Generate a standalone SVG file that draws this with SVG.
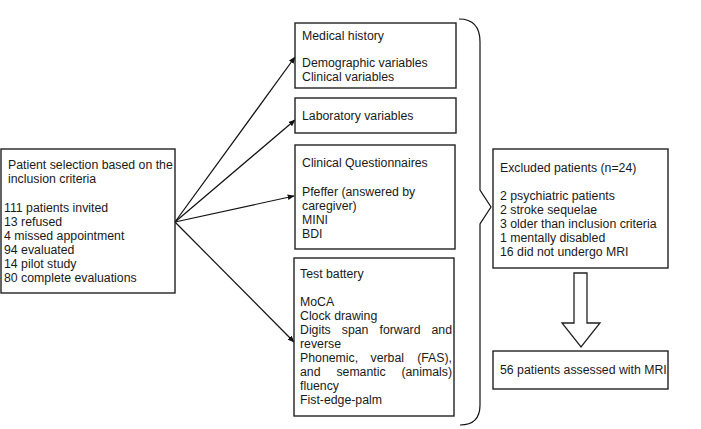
<svg xmlns="http://www.w3.org/2000/svg" width="701" height="429" viewBox="0 0 701 429">
<style>
.box{fill:#fff;stroke:#222;stroke-width:1.4}
text{font-family:"Liberation Sans",Arial,sans-serif;font-size:12.3px;fill:#1a1a1a}
.conn{stroke:#111;stroke-width:1.2;fill:none}
</style>
<defs>
<marker id="ah" viewBox="0 0 10 10" refX="9" refY="5" markerWidth="7" markerHeight="7" markerUnits="userSpaceOnUse" orient="auto">
<path d="M0,1 L10,5 L0,9 Z" fill="#111"/>
</marker>
</defs>
<rect width="701" height="429" fill="#fff"/>
<g id="connectors">
<line class="conn" x1="175" y1="222" x2="295" y2="57" marker-end="url(#ah)"/>
<line class="conn" x1="175" y1="222" x2="295" y2="120" marker-end="url(#ah)"/>
<line class="conn" x1="175" y1="222" x2="294" y2="196" marker-end="url(#ah)"/>
<line class="conn" x1="175" y1="222" x2="294" y2="342" marker-end="url(#ah)"/>
<path class="conn" stroke="#222" d="M459,19 C472,19 480,26 480,42 L480,190 L491,207 L480,224 L480,405 C480,419 472,425 460,425"/>
<path d="M574,273 L587,273 L587,323 L600,323 L581,347 L562,323 L574,323 Z" fill="#fff" stroke="#222" stroke-width="1.3"/>
</g>
<g id="selection">
<rect class="box" x="1" y="149" width="174" height="144"/>
<text x="8" y="169">Patient selection based on the</text>
<text x="8" y="183">inclusion criteria</text>
<text x="4" y="212">111 patients invited</text>
<text x="4" y="226">13 refused</text>
<text x="4" y="240">4 missed appointment</text>
<text x="4" y="254">94 evaluated</text>
<text x="4" y="268">14 pilot study</text>
<text x="4" y="282">80 complete evaluations</text>
</g>
<g id="medical-history">
<rect class="box" x="295" y="23" width="161" height="65"/>
<text x="302" y="40">Medical history</text>
<text x="302" y="67">Demographic variables</text>
<text x="302" y="81">Clinical variables</text>
</g>
<g id="laboratory">
<rect class="box" x="295" y="98" width="161" height="35"/>
<text x="302" y="120">Laboratory variables</text>
</g>
<g id="questionnaires">
<rect class="box" x="295" y="145" width="160" height="104"/>
<text x="302" y="167">Clinical Questionnaires</text>
<text x="302" y="196">Pfeffer (answered by</text>
<text x="302" y="210">caregiver)</text>
<text x="302" y="224">MINI</text>
<text x="302" y="238">BDI</text>
</g>
<g id="test-battery">
<rect class="box" x="294" y="258" width="160" height="158"/>
<text x="300" y="278">Test battery</text>
<text x="300" y="306">MoCA</text>
<text x="300" y="320">Clock drawing</text>
<text y="334"><tspan x="300">Digits</tspan><tspan x="341.8">span</tspan><tspan x="379.5">forward</tspan></text>
<text x="452" y="334" text-anchor="end">and</text>
<text x="300" y="348">reverse</text>
<text y="362"><tspan x="300">Phonemic,</tspan><tspan x="370.5">verbal</tspan></text>
<text x="452" y="362" text-anchor="end">(FAS),</text>
<text y="376"><tspan x="300">and</tspan><tspan x="336.4">semantic</tspan></text>
<text x="452" y="376" text-anchor="end">(animals)</text>
<text x="300" y="390">fluency</text>
<text x="300" y="404">Fist-edge-palm</text>
</g>
<g id="excluded">
<rect class="box" x="493" y="149" width="175" height="119"/>
<text x="500" y="172">Excluded patients (n=24)</text>
<text x="500" y="200">2 psychiatric patients</text>
<text x="500" y="214">2 stroke sequelae</text>
<text x="500" y="228">3 older than inclusion criteria</text>
<text x="500" y="242">1 mentally disabled</text>
<text x="500" y="256">16 did not undergo MRI</text>
</g>
<g id="mri">
<rect class="box" x="493" y="351" width="175" height="38"/>
<text x="500" y="374">56 patients assessed with MRI</text>
</g>
</svg>
